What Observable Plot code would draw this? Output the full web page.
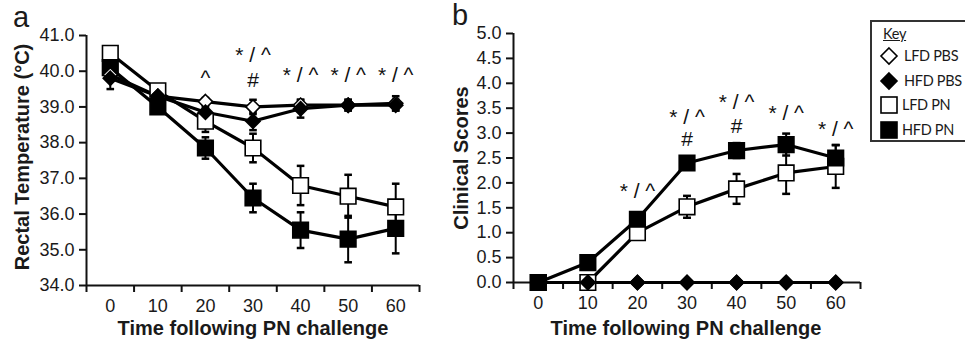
<!DOCTYPE html>
<html><head><meta charset="utf-8">
<script src="https://cdn.jsdelivr.net/npm/d3@7"></script>
<script src="https://cdn.jsdelivr.net/npm/@observablehq/plot@0.6"></script>
<style>
body{margin:0;background:#fff;font-family:"Liberation Sans",Arial,sans-serif;color:#1a1a1a;}
#wrap{position:relative;width:965px;height:343px;overflow:hidden;background:#fff;}
.panel{position:absolute;top:0;}
.letter{position:absolute;font-size:29px;line-height:1;}
.xtitle{position:absolute;font-weight:bold;font-size:20px;text-align:center;width:340px;line-height:1;}
.ytitle{position:absolute;font-weight:bold;font-size:20px;text-align:center;width:300px;line-height:1;transform:rotate(-90deg);transform-origin:center center;}
#legend{position:absolute;left:870px;top:20px;width:110px;height:118px;border:2px solid #333;font-family:Lato,"Liberation Sans",sans-serif;font-size:14.5px;letter-spacing:-0.3px;}
#legend svg{position:absolute;}
</style></head>
<body><div id="wrap">
<div class="letter" style="left:13px;top:3px">a</div>
<div class="letter" style="left:452px;top:1px">b</div>
<div class="ytitle" style="left:-128px;top:147px">Rectal Temperature (°C)</div>
<div class="ytitle" style="left:311px;top:148px">Clinical Scores</div>
<div class="xtitle" style="left:83px;top:318px">Time following PN challenge</div>
<div class="xtitle" style="left:516px;top:318px">Time following PN challenge</div>
<div id="legend"></div>
</div>
<script>
// ---- data ----
const times = [0, 10, 20, 30, 40, 50, 60];
const seriesNames = ["LFD PN", "HFD PN", "LFD PBS", "HFD PBS"];

// Panel a: rectal temperature (°C)
const tempLFDPBS = [39.9, 39.3, 39.15, 39.0, 39.05, 39.05, 39.1];
const tempLFDPBSerr = [0.15, 0.1, 0.1, 0.2, 0.15, 0.15, 0.2];
const tempHFDPBS = [39.8, 39.3, 38.85, 38.6, 38.95, 39.05, 39.05];
const tempHFDPBSerr = [0.3, 0.1, 0.15, 0.25, 0.25, 0.15, 0.15];
const tempLFDPN = [40.5, 39.45, 38.6, 37.85, 36.8, 36.5, 36.2];
const tempLFDPNerr = [0.1, 0.1, 0.3, 0.4, 0.55, 0.6, 0.65];
const tempHFDPN = [40.1, 39.0, 37.85, 36.45, 35.55, 35.3, 35.6];
const tempHFDPNerr = [0.1, 0.1, 0.3, 0.4, 0.5, 0.65, 0.7];

// Panel b: clinical scores
const scoreLFDPBS = [0, 0, 0, 0, 0, 0, 0];
const scoreHFDPBS = [0, 0, 0, 0, 0, 0, 0];
const scoreLFDPN = [0, 0, 1.0, 1.52, 1.88, 2.2, 2.33];
const scoreLFDPNerr = [0, 0, 0, 0.22, 0.3, 0.42, 0.43];
const scoreHFDPN = [0, 0.4, 1.27, 2.4, 2.65, 2.77, 2.5];
const scoreHFDPNerr = [0, 0, 0, 0.13, 0.15, 0.22, 0.26];

// tick labels
const tempTicks = [34, 35, 36, 37, 38, 39, 40, 41];
const scoreTicks = [0, 0.5, 1, 1.5, 2, 2.5, 3, 3.5, 4, 4.5, 5];

// significance annotations (time, label, value-axis position)
const annotTimeA = [20, 30, 30, 40, 50, 60];
const annotLabelA = ["^", "* / ^", "#", "* / ^", "* / ^", "* / ^"];
const annotYA = [39.81, 40.44, 39.74, 39.88, 39.88, 39.88];
const annotTimeB = [20, 30, 30, 40, 40, 50, 60];
const annotLabelB = ["* / ^", "* / ^", "#", "* / ^", "#", "* / ^", "* / ^"];
const annotYB = [1.83, 3.31, 2.87, 3.62, 3.13, 3.40, 3.08];

// ---- build tables ----
function rows(vals, errs, series) {
  return times.map((t, i) => ({t, v: vals[i], e: errs ? errs[i] : 0, series}));
}
const dataA = [
  ...rows(tempLFDPN, tempLFDPNerr, "LFD PN"),
  ...rows(tempHFDPN, tempHFDPNerr, "HFD PN"),
  ...rows(tempLFDPBS, tempLFDPBSerr, "LFD PBS"),
  ...rows(tempHFDPBS, tempHFDPBSerr, "HFD PBS")
];
const dataB = [
  ...rows(scoreLFDPN, scoreLFDPNerr, "LFD PN"),
  ...rows(scoreHFDPN, scoreHFDPNerr, "HFD PN"),
  ...rows(scoreLFDPBS, null, "LFD PBS"),
  ...rows(scoreHFDPBS, null, "HFD PBS")
];
const annA = annotTimeA.map((t, i) => ({t, label: annotLabelA[i], y: annotYA[i]}));
const annB = annotTimeB.map((t, i) => ({t, label: annotLabelB[i], y: annotYB[i]}));

const isFilled = s => s.startsWith("HFD");
const isSquare = s => s.endsWith("PN");
const step = times[1] - times[0];
const catEdges = [...times.map(t => t - step / 2), times[times.length - 1] + step / 2];

function panel({data, ann, yDomain, yTicks, width, height, mt, mb, ml, mr}) {
  const xDomain = [catEdges[0], catEdges[catEdges.length - 1]];
  const capW = 0.8;
  const bars = data.filter(d => d.e > 0);
  const dotMarks = seriesNames.map(s => Plot.dot(data.filter(d => d.series === s), {
    x: "t", y: "v",
    symbol: isSquare(s) ? "square" : "diamond2",
    r: isSquare(s) ? 8.8 : 6.4,
    fill: isFilled(s) ? "#000" : "#fff", stroke: "#000", strokeWidth: 1.6
  }));
  const marks = [
    Plot.ruleX([xDomain[0]], {stroke: "#111", strokeWidth: 2}),
    Plot.ruleY([yDomain[0]], {stroke: "#111", strokeWidth: 2}),
    Plot.axisY(yTicks, {tickSize: 7, tickPadding: 5, strokeWidth: 2, stroke: "#111", tickFormat: d3.format(".1f"), label: null, fontSize: 18}),
    Plot.axisX(catEdges, {tickSize: 7, strokeWidth: 2, stroke: "#111", tickFormat: () => "", label: null}),
    Plot.axisX(times, {tickSize: 0, tickPadding: 14, label: null, fontSize: 18}),
    Plot.line(data, {x: "t", y: "v", z: "series", stroke: "#000", strokeWidth: 3.2}),
    Plot.ruleX(bars, {x: "t", y1: d => d.v - d.e, y2: d => d.v + d.e, stroke: "#000", strokeWidth: 2}),
    Plot.link(bars, {x1: d => d.t - capW, x2: d => d.t + capW, y1: d => d.v + d.e, y2: d => d.v + d.e, stroke: "#000", strokeWidth: 2.5}),
    Plot.link(bars, {x1: d => d.t - capW, x2: d => d.t + capW, y1: d => d.v - d.e, y2: d => d.v - d.e, stroke: "#000", strokeWidth: 2.5}),
    ...dotMarks,
    Plot.text(ann, {x: "t", y: "y", text: "label", fontSize: 21, fill: "#111", lineAnchor: "middle"})
  ];
  return Plot.plot({
    width, height, marginTop: mt, marginBottom: mb, marginLeft: ml, marginRight: mr,
    x: {domain: xDomain, axis: null},
    y: {domain: yDomain, axis: null},
    style: {fontFamily: "'Liberation Sans', Arial, sans-serif", fontSize: "18px", color: "#1a1a1a", background: "transparent", overflow: "visible"},
    marks
  });
}

const wrap = document.getElementById("wrap");
const pa = panel({data: dataA, ann: annA, yDomain: [34, 41], yTicks: tempTicks, width: 440, height: 343, mt: 35, mb: 58, ml: 86, mr: 21});
pa.classList.add("panel"); pa.style.left = "0px";
const pb = panel({data: dataB, ann: annB, yDomain: [0, 5], yTicks: scoreTicks, width: 440, height: 343, mt: 33, mb: 61, ml: 73, mr: 20});
pb.classList.add("panel"); pb.style.left = "440px";
wrap.insertBefore(pa, wrap.firstChild);
wrap.insertBefore(pb, wrap.firstChild);

// ---- legend ----
const legend = document.getElementById("legend");
const key = document.createElement("div");
key.textContent = "Key";
Object.assign(key.style, {position: "absolute", left: "11px", top: "3px", textDecoration: "underline"});
legend.appendChild(key);
const legendOrder = ["LFD PBS", "HFD PBS", "LFD PN", "HFD PN"];
legendOrder.forEach((s, i) => {
  const top = 23 + i * 24.5;
  const svg = d3.select(legend).append("svg").attr("width", 22).attr("height", 22)
    .style("left", "6px").style("top", top + "px");
  if (isSquare(s)) {
    svg.append("rect").attr("x", 3).attr("y", 3).attr("width", 16).attr("height", 16)
      .attr("fill", isFilled(s) ? "#000" : "#fff").attr("stroke", "#000").attr("stroke-width", 1.6);
  } else {
    svg.append("path").attr("d", "M11,3 L19,11 L11,19 L3,11 Z")
      .attr("fill", isFilled(s) ? "#000" : "#fff").attr("stroke", "#000").attr("stroke-width", 1.6);
  }
  const t = document.createElement("div");
  t.textContent = s;
  Object.assign(t.style, {position: "absolute", left: isSquare(s) ? "30px" : "32px", top: (top + 2) + "px", whiteSpace: "nowrap"});
  legend.appendChild(t);
});
</script>
</body></html>
